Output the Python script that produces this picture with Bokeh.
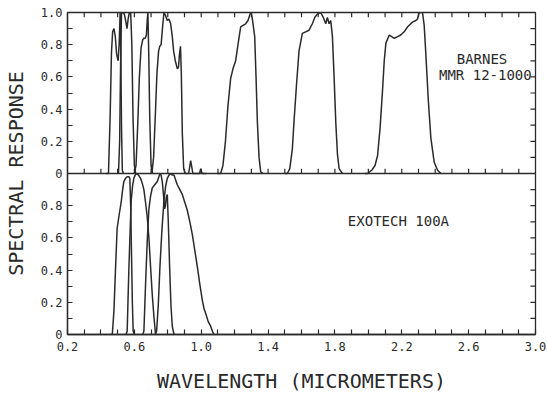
from bokeh.plotting import figure
from bokeh.models import Range1d, FixedTicker, Label, Span
from bokeh.embed import file_html
from bokeh.resources import INLINE

# ---------------- data ----------------
# BARNES MMR 12-1000 (upper panel), wavelength in micrometers, relative response
barnes_b1_x = [0.43, 0.445, 0.455, 0.463, 0.470, 0.478, 0.486, 0.494, 0.503, 0.509, 0.515, 0.519, 0.523, 0.528, 0.535]
barnes_b1_y = [0, 0, 0.35, 0.75, 0.88, 0.90, 0.85, 0.74, 0.70, 0.80, 1.0, 0.75, 0.3, 0.02, 0]
barnes_b2_x = [0.505, 0.512, 0.518, 0.523, 0.530, 0.540, 0.548, 0.556, 0.563, 0.570, 0.578, 0.585, 0.592, 0.600, 0.608]
barnes_b2_y = [0, 0.2, 0.7, 1.0, 1.0, 0.99, 0.95, 0.90, 0.96, 1.0, 1.0, 0.8, 0.35, 0.05, 0]
barnes_b3_x = [0.600, 0.610, 0.620, 0.630, 0.640, 0.650, 0.657, 0.665, 0.672, 0.677, 0.681, 0.686, 0.692, 0.700, 0.708]
barnes_b3_y = [0, 0.05, 0.30, 0.60, 0.78, 0.83, 0.84, 0.84, 0.86, 0.95, 1.0, 0.75, 0.35, 0.05, 0]
barnes_b4_x = [0.705, 0.715, 0.725, 0.735, 0.745, 0.752, 0.760, 0.768, 0.777, 0.787, 0.797, 0.807, 0.817,
               0.827, 0.835, 0.845, 0.857, 0.864, 0.870, 0.876, 0.881, 0.887, 0.895, 0.905,
               0.925, 0.937, 0.950, 0.975, 0.990, 0.997, 1.005, 1.03]
barnes_b4_y = [0, 0.10, 0.35, 0.62, 0.76, 0.79, 0.80, 0.90, 1.0, 0.98, 0.95, 0.96, 0.93,
               0.85, 0.76, 0.70, 0.65, 0.66, 0.74, 0.79, 0.62, 0.25, 0.03, 0,
               0, 0.08, 0, 0, 0, 0.03, 0, 0]
barnes_b5_x = [1.095, 1.116, 1.13, 1.145, 1.16, 1.176, 1.19, 1.206, 1.22, 1.236, 1.25, 1.266, 1.28,
               1.292, 1.30, 1.31, 1.32, 1.328, 1.336, 1.346, 1.356, 1.37]
barnes_b5_y = [0, 0, 0.05, 0.2, 0.42, 0.59, 0.65, 0.70, 0.80, 0.91, 0.92, 0.93, 0.95,
               0.99, 1.0, 0.93, 0.85, 0.6, 0.32, 0.1, 0.01, 0]
barnes_b6_x = [1.50, 1.515, 1.53, 1.545, 1.555, 1.57, 1.585, 1.605, 1.625, 1.645, 1.665, 1.68, 1.695,
               1.715, 1.73, 1.745, 1.755, 1.765, 1.775, 1.785, 1.795, 1.805, 1.815, 1.825, 1.845]
barnes_b6_y = [0, 0, 0.03, 0.15, 0.32, 0.55, 0.76, 0.87, 0.88, 0.89, 0.93, 0.97, 0.99,
               1.0, 0.97, 0.93, 0.97, 0.93, 0.95, 0.85, 0.6, 0.32, 0.12, 0.03, 0]
barnes_b7_x = [1.98, 1.995, 2.02, 2.04, 2.055, 2.07, 2.085, 2.095, 2.105, 2.125, 2.14, 2.155, 2.175, 2.194,
               2.214, 2.234, 2.264, 2.284, 2.294, 2.304, 2.324, 2.334, 2.344, 2.359, 2.374, 2.394, 2.414, 2.434]
barnes_b7_y = [0, 0, 0.02, 0.05, 0.11, 0.28, 0.52, 0.70, 0.81, 0.86, 0.85, 0.84, 0.85, 0.86,
               0.88, 0.91, 0.94, 0.95, 0.96, 1.0, 1.0, 0.92, 0.74, 0.45, 0.22, 0.07, 0.02, 0]

# EXOTECH 100A (lower panel)
exotech_b1_x = [0.455, 0.468, 0.478, 0.487, 0.497, 0.510, 0.521, 0.530, 0.537, 0.547, 0.557, 0.567,
                0.573, 0.578, 0.583, 0.588, 0.593, 0.60]
exotech_b1_y = [0, 0, 0.15, 0.40, 0.66, 0.75, 0.82, 0.90, 0.95, 0.97, 0.98, 0.98,
                0.97, 0.8, 0.5, 0.2, 0.02, 0]
exotech_b2_x = [0.550, 0.557, 0.567, 0.575, 0.581, 0.590, 0.597, 0.605, 0.613, 0.625, 0.637, 0.647,
                0.657, 0.667, 0.677, 0.687, 0.697, 0.707, 0.717, 0.727]
exotech_b2_y = [0, 0.02, 0.4, 0.65, 0.83, 0.93, 0.97, 0.99, 1.0, 0.99, 0.97, 0.94,
                0.90, 0.82, 0.73, 0.60, 0.42, 0.25, 0.11, 0]
exotech_b3_x = [0.650, 0.657, 0.667, 0.677, 0.687, 0.697, 0.707, 0.722, 0.737, 0.747, 0.753, 0.760,
                0.767, 0.774, 0.781, 0.786, 0.791, 0.797, 0.803, 0.811, 0.819, 0.827, 0.837]
exotech_b3_y = [0, 0.02, 0.31, 0.58, 0.78, 0.86, 0.91, 0.93, 0.95, 0.98, 1.0, 0.99,
                0.95, 0.87, 0.78, 0.80, 0.85, 0.87, 0.70, 0.42, 0.18, 0.05, 0]
exotech_b4_x = [0.725, 0.733, 0.743, 0.753, 0.765, 0.777, 0.787, 0.797, 0.807, 0.817, 0.827, 0.837,
                0.847, 0.857, 0.872, 0.887, 0.902, 0.917, 0.932, 0.947, 0.962, 0.977, 0.992, 1.007,
                1.017, 1.027, 1.042, 1.057, 1.067, 1.077]
exotech_b4_y = [0, 0.02, 0.18, 0.42, 0.65, 0.83, 0.92, 0.97, 0.99, 1.0, 0.99, 0.99,
                0.96, 0.93, 0.90, 0.87, 0.82, 0.77, 0.70, 0.62, 0.52, 0.42, 0.31, 0.21,
                0.16, 0.13, 0.08, 0.05, 0.02, 0]

# axis ticks / labels
x_major_ticks = [0.2, 0.6, 1.0, 1.4, 1.8, 2.2, 2.6, 3.0]
x_major_labels = ["0.2", "0.6", "1.0", "1.4", "1.8", "2.2", "2.6", "3.0"]
x_minor_ticks = [0.3, 0.4, 0.5, 0.7, 0.8, 0.9, 1.1, 1.2, 1.3, 1.5, 1.6, 1.7, 1.9, 2.0, 2.1,
                 2.3, 2.4, 2.5, 2.7, 2.8, 2.9]
# panel response ticks (lower panel 0..1, upper panel stacked above it: 1..2)
y_major_ticks = [0.0, 0.2, 0.4, 0.6, 0.8, 1.0, 1.2, 1.4, 1.6, 1.8, 2.0]
y_major_labels = ["0", "0.2", "0.4", "0.6", "0.8", "0", "0.2", "0.4", "0.6", "0.8", "1.0"]
y_minor_ticks = [0.1, 0.3, 0.5, 0.7, 0.9, 1.1, 1.3, 1.5, 1.7, 1.9]

UPPER_OFFSET = 1.0
X_MIN, X_MAX = 0.2, 3.0
Y_MIN, Y_MAX = 0.0, 2.0
TICK_DX = 0.03   # inner tick length in data units (~5 px)
TICK_DY = 0.03

INK = "#2a2a2a"
MONO = "DejaVu Sans Mono"

p = figure(width=547, height=395, output_backend="svg", toolbar_location=None,
           x_range=Range1d(X_MIN, X_MAX), y_range=Range1d(Y_MIN, Y_MAX),
           min_border_left=67, min_border_right=12, min_border_top=12, min_border_bottom=57,
           background_fill_color="white", border_fill_color="white")
p.xgrid.visible = False
p.ygrid.visible = False
p.outline_line_color = INK
p.outline_line_width = 1.3


def style_axis(ax, ticks, minor):
    ax.ticker = FixedTicker(ticks=ticks, minor_ticks=minor)
    ax.major_tick_in = 5
    ax.major_tick_out = 0
    ax.minor_tick_in = 5
    ax.minor_tick_out = 0
    ax.major_tick_line_color = INK
    ax.minor_tick_line_color = INK
    ax.major_tick_line_width = 1.2
    ax.minor_tick_line_width = 1.2
    ax.axis_line_color = INK
    ax.axis_line_width = 1.3
    ax.major_label_text_font = MONO
    ax.major_label_text_font_size = "12px"
    ax.major_label_text_color = INK
    ax.major_label_standoff = 5
    ax.axis_label_text_font = MONO
    ax.axis_label_text_font_size = "20px"
    ax.axis_label_text_font_style = "normal"
    ax.axis_label_text_color = INK


xa = p.xaxis[0]
style_axis(xa, x_major_ticks, x_minor_ticks)
xa.major_label_overrides = dict(zip(x_major_ticks, x_major_labels))
xa.major_label_standoff = 7
xa.axis_label = "WAVELENGTH (MICROMETERS)"
xa.axis_label_standoff = 15

ya = p.yaxis[0]
style_axis(ya, y_major_ticks, y_minor_ticks)
ya.major_label_overrides = dict(zip(y_major_ticks, y_major_labels))
ya.axis_label = "SPECTRAL RESPONSE"
ya.axis_label_standoff = 10

# inner ticks on the top edge, on the right edge and on the panel divider
all_x_ticks = sorted(x_minor_ticks + x_major_ticks[1:-1])
all_y_ticks = sorted(y_minor_ticks + [t for t in y_major_ticks if t not in (Y_MIN, UPPER_OFFSET, Y_MAX)])
p.segment(x0=all_x_ticks, y0=[Y_MAX] * len(all_x_ticks),
          x1=all_x_ticks, y1=[Y_MAX - TICK_DY] * len(all_x_ticks),
          line_color=INK, line_width=1.2)
p.segment(x0=all_x_ticks, y0=[UPPER_OFFSET] * len(all_x_ticks),
          x1=all_x_ticks, y1=[UPPER_OFFSET + TICK_DY] * len(all_x_ticks),
          line_color=INK, line_width=1.2)
p.segment(x0=[X_MAX] * len(all_y_ticks), y0=all_y_ticks,
          x1=[X_MAX - TICK_DX] * len(all_y_ticks), y1=all_y_ticks,
          line_color=INK, line_width=1.2)
p.add_layout(Span(location=UPPER_OFFSET, dimension="width", line_color=INK, line_width=1.3))

barnes = [(barnes_b1_x, barnes_b1_y), (barnes_b2_x, barnes_b2_y), (barnes_b3_x, barnes_b3_y),
          (barnes_b4_x, barnes_b4_y), (barnes_b5_x, barnes_b5_y), (barnes_b6_x, barnes_b6_y),
          (barnes_b7_x, barnes_b7_y)]
for bx, by in barnes:
    p.line(bx, [v + UPPER_OFFSET for v in by], line_color=INK, line_width=1.5)

exotech = [(exotech_b1_x, exotech_b1_y), (exotech_b2_x, exotech_b2_y),
           (exotech_b3_x, exotech_b3_y), (exotech_b4_x, exotech_b4_y)]
for bx, by in exotech:
    p.line(bx, by, line_color=INK, line_width=1.5)

for txt, lx, ly in [("BARNES", 2.68, UPPER_OFFSET + 0.71),
                    ("MMR 12-1000", 2.70, UPPER_OFFSET + 0.61),
                    ("EXOTECH 100A", 2.18, 0.707)]:
    p.add_layout(Label(x=lx, y=ly, text=txt, text_font=MONO, text_font_size="14px",
                       text_color=INK, text_align="center", text_baseline="middle"))

open("out.html", "w").write(file_html(p, INLINE))
